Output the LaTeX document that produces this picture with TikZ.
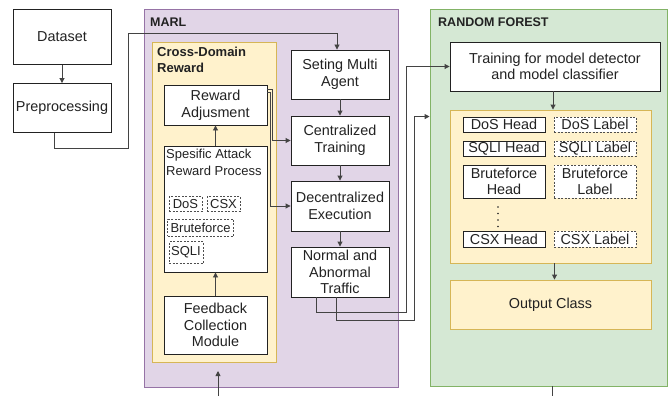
\documentclass[tikz,border=0pt]{standalone}
\usepackage{fontspec}
\setmainfont{Liberation Sans}
\usetikzlibrary{arrows.meta,calc}
\definecolor{marlfill}{HTML}{E1D5E7}
\definecolor{marldraw}{HTML}{9673A6}
\definecolor{yfill}{HTML}{FFF2CC}
\definecolor{ydraw}{HTML}{D6B656}
\definecolor{gfill}{HTML}{D5E8D4}
\definecolor{gdraw}{HTML}{82B366}
\definecolor{ink}{HTML}{222222}
\begin{document}
\begin{tikzpicture}[x=1pt,y=-1pt,
 box/.style={draw=ink, fill=white, line width=0.9pt, inner sep=0pt, align=center, text=ink, font=\fontsize{14.4}{16.7}\selectfont},
 dbox/.style={draw=ink!80, dash pattern=on 2pt off 1.5pt, line width=0.7pt, fill=white, inner sep=0pt, text=ink, font=\fontsize{13}{15}\selectfont},
 hbox/.style={draw=ink, fill=white, line width=0.9pt, inner sep=0pt, align=center, text=ink, font=\fontsize{14.4}{16.7}\selectfont, minimum width=82pt},
 lbox/.style={hbox, draw=ink!80, dash pattern=on 2pt off 1.5pt, line width=0.7pt},
 container/.style={inner sep=0pt, line width=0.9pt},
 conn/.style={draw=ink!85, line width=0.9pt},
 arr/.style={conn, -{Triangle[length=5pt,width=5pt]}},
 title/.style={font=\bfseries\fontsize{12.5}{15}\selectfont, anchor=west, text=ink, inner sep=0pt, align=left},
]
\useasboundingbox (0,0) rectangle (671,396);

% containers
\node[container, draw=marldraw, fill=marlfill, minimum width=254pt, minimum height=378pt] (marl) at (271,198) {};
\node[container, draw=ydraw, fill=yfill, minimum width=124pt, minimum height=320pt] (cdr) at (214,202) {};
\node[container, draw=gdraw, fill=gfill, minimum width=237pt, minimum height=377pt] (rf) at (548.5,197.5) {};
\node[container, draw=ydraw, fill=yfill, minimum width=201pt, minimum height=153pt] (heads) at (550.5,186.5) {};

\node[title] (marlT) at (150,22) {MARL};
\node[title, font=\bfseries\fontsize{13}{16}\selectfont, anchor=north west] (cdrT) at (157,47) {Cross-Domain\\Reward};
\node[title] (rfT) at (438,22) {RANDOM FOREST};

% left column
\node[box, minimum width=98pt, minimum height=55pt] (ds) at (62,37) {Dataset};
\node[box, minimum width=98pt, minimum height=49pt] (pre) at (62,108) {Preprocessing};

% cross-domain reward
\node[box, minimum width=103pt, minimum height=40pt] (ra) at (215.5,105) {Reward\\Adjusment};
\node[box, minimum width=103pt, minimum height=126pt] (sp) at (215.5,209) {};
\node[anchor=north west, inner sep=0pt, align=left, text=ink, font=\fontsize{13}{16.5}\selectfont] (spT) at (166,149) {Spesific Attack\\Reward Process};
\node[dbox, minimum width=33pt, minimum height=15pt] (dos) at (185.5,204) {DoS};
\node[dbox, minimum width=33pt, minimum height=15pt] (csx) at (223.5,204) {CSX};
\node[dbox, minimum width=66pt, minimum height=17pt] (bf) at (200.5,227.5) {Bruteforce};
\node[dbox, minimum width=34pt, minimum height=22pt] (sq) at (186,252.5) {SQLI};
\node[box, minimum width=103pt, minimum height=58pt] (fb) at (215.5,325) {Feedback\\Collection\\Module};

% MARL right column
\node[box, minimum width=98pt, minimum height=49pt] (sma) at (340,74.5) {Seting Multi\\Agent};
\node[box, minimum width=98pt, minimum height=49pt] (ct) at (340,140.5) {Centralized\\Training};
\node[box, minimum width=98pt, minimum height=50pt] (de) at (340,206) {Decentralized\\Execution};
\node[box, minimum width=98pt, minimum height=50pt] (na) at (340,272) {Normal and\\Abnormal\\Traffic};

% random forest
\node[box, minimum width=210pt, minimum height=49pt] (tr) at (555,66.5) {Training for model detector\\and model classifier};
\node[hbox, minimum height=15pt] (dosH) at (504,124.5) {DoS Head};
\node[lbox, minimum height=15pt] (dosL) at (595,124.5) {DoS Label};
\node[hbox, minimum height=15pt] (sqH) at (504,148.5) {SQLI Head};
\node[lbox, minimum height=15pt] (sqL) at (595,148.5) {SQLI Label};
\node[hbox, minimum height=33pt] (bfH) at (504,181.5) {Bruteforce\\Head};
\node[lbox, minimum height=33pt] (bfL) at (595,181.5) {Bruteforce\\Label};
\node[hbox, minimum height=16pt] (csH) at (504,239) {CSX Head};
\node[lbox, minimum height=16pt] (csL) at (595,239) {CSX Label};
\foreach \yy in {207,213.5,220,226.5} \fill[ink] (498,\yy) circle (0.9pt);
\node[container, draw=ydraw, fill=yfill, minimum width=201pt, minimum height=49pt, text=ink, font=\fontsize{14.4}{16.7}\selectfont] (out) at (550.5,304.5) {Output Class};

% connectors
\draw[arr] (ds) -- (pre);
\draw[arr] ($(pre.south)+(-8,0)$) |- (128,148) |- (337,33) -- ($(sma.north)+(-3,0)$);
\draw[arr] (fb) -- (sp);
\draw[arr] (sp) -- (ra);
\draw[arr] ($(ra.east)+(0,-16)$) -- ++(5,0) |- (ct.west);
\draw[arr] ($(ra.east)+(0,-13)$) -- ++(2.5,0) |- (de.west);
\draw[arr] (sma) -- (ct);
\draw[arr] (ct) -- (de);
\draw[arr] (de) -- (na);
\draw[arr] ($(na.south)+(-24,0)$) |- (406,312) |- (tr.west);
\coordinate (rfin) at ($(rf.north west)+(0,108)$);
\draw[arr] ($(na.south)+(-4,0)$) |- (414,320) |- (rfin);
\draw[arr] ($(tr.south)+(-2,0)$) -- ($(heads.north)+(2.5,0)$);
\draw[arr] ($(heads.south)+(4,0)$) -- ($(out.north)+(4,0)$);
\coordinate (inS) at (218,396);
\coordinate (inT) at (218,371);
\draw[arr] (inS) -- (inT);
\coordinate (outE) at (552,396);
\draw[conn] (rf.south -| outE) -- (outE);
\end{tikzpicture}
\end{document}
